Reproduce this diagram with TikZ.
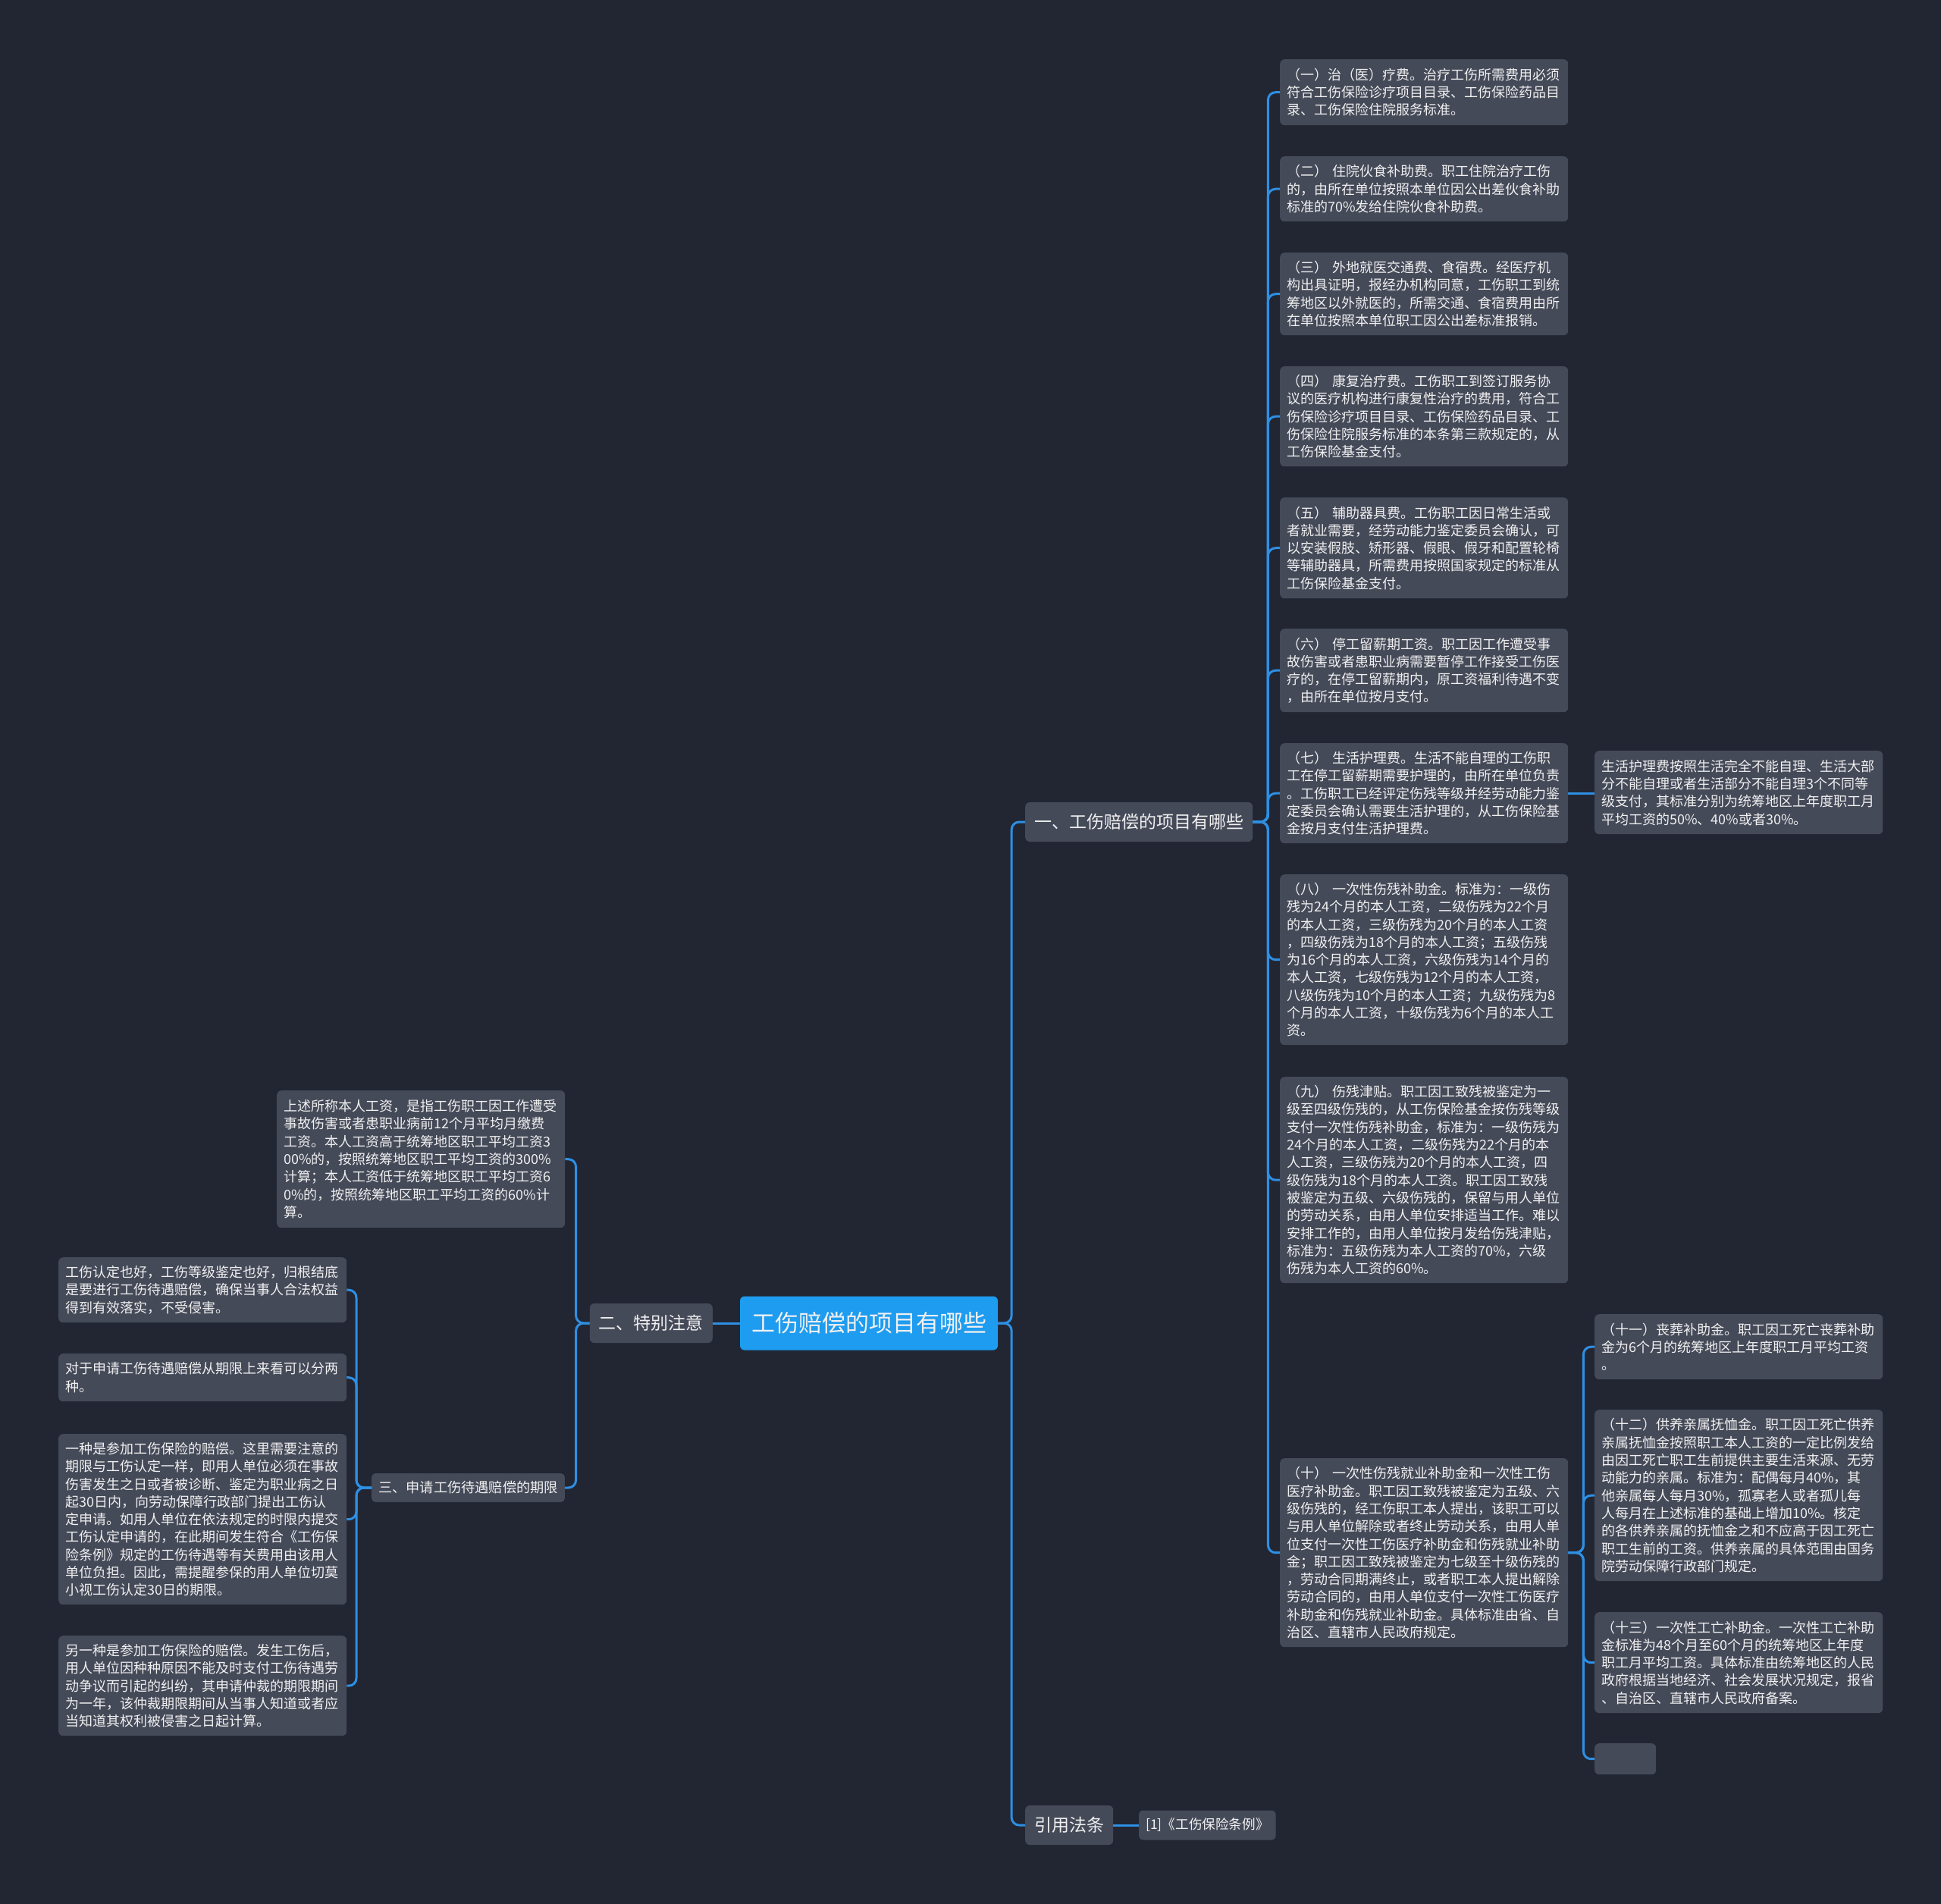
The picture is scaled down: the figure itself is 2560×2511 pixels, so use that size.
\documentclass[tikz,border=0pt]{standalone}
\usepackage{fontspec}
\setmainfont{Noto Sans CJK SC}
\usepackage{xcolor}
\usetikzlibrary{positioning}

\definecolor{bgnavy}{HTML}{222633}
\definecolor{boxgrey}{HTML}{454A59}
\definecolor{linkblue}{HTML}{2E8FE3}
\definecolor{rootblue}{HTML}{1E9CF0}
\definecolor{textwhite}{HTML}{F0F0F0}

\begin{document}
\begin{tikzpicture}[
    x=1pt, y=-1pt,
    every node/.style={inner sep=0pt, text=textwhite},
    rootbox/.style={fill=rootblue, rounded corners=6pt, font=\fontsize{31}{36}\selectfont, minimum width=340pt, minimum height=71pt},
    topic/.style={fill=boxgrey, rounded corners=6pt, font=\fontsize{23}{28}\selectfont, inner xsep=12pt, minimum height=52pt},
    subtopic/.style={fill=boxgrey, rounded corners=5pt, font=\fontsize{18.2}{22}\selectfont, inner xsep=9pt, minimum height=38pt},
    leaf/.style={fill=boxgrey, rounded corners=6pt, font=\fontsize{18}{23.3}\selectfont, align=left, text width=362pt, inner xsep=9pt, anchor=north west},
    link/.style={draw=linkblue, line width=3pt, rounded corners=10pt}
]
\useasboundingbox (0,0) rectangle (2560,2511);
\fill[bgnavy] (0,0) rectangle (2560,2511);

% centre and main branches
\node[rootbox] (root) at (1146,1745) {工伤赔偿的项目有哪些};
\node[topic, anchor=west] (sec1) at (1352,1084) {一、工伤赔偿的项目有哪些};
\node[topic, anchor=east] (sec2) at (940,1745) {二、特别注意};
\node[topic, anchor=west] (law) at (1352,2407) {引用法条};
\node[subtopic, font=\fontsize{17.6}{22}\selectfont, minimum height=39pt, anchor=west] (lawref) at (1502,2407) {[1]《工伤保险条例》};
\node[subtopic, anchor=east] (sec3) at (745,1962) {三、申请工伤待遇赔偿的期限};

% items of section one
\node[leaf, minimum height=87pt] (i1) at (1688,78) {（一）治（医）疗费。治疗工伤所需费用必须\\符合工伤保险诊疗项目目录、工伤保险药品目\\录、工伤保险住院服务标准。};
\node[leaf, minimum height=86pt] (i2) at (1688,206) {（二） 住院伙食补助费。职工住院治疗工伤\\的，由所在单位按照本单位因公出差伙食补助\\标准的70\%发给住院伙食补助费。};
\node[leaf, minimum height=109pt] (i3) at (1688,333) {（三） 外地就医交通费、食宿费。经医疗机\\构出具证明，报经办机构同意，工伤职工到统\\筹地区以外就医的，所需交通、食宿费用由所\\在单位按照本单位职工因公出差标准报销。};
\node[leaf, minimum height=132pt] (i4) at (1688,483) {（四） 康复治疗费。工伤职工到签订服务协\\议的医疗机构进行康复性治疗的费用，符合工\\伤保险诊疗项目目录、工伤保险药品目录、工\\伤保险住院服务标准的本条第三款规定的，从\\工伤保险基金支付。};
\node[leaf, minimum height=133pt] (i5) at (1688,656) {（五） 辅助器具费。工伤职工因日常生活或\\者就业需要，经劳动能力鉴定委员会确认，可\\以安装假肢、矫形器、假眼、假牙和配置轮椅\\等辅助器具，所需费用按照国家规定的标准从\\工伤保险基金支付。};
\node[leaf, minimum height=110pt] (i6) at (1688,829) {（六） 停工留薪期工资。职工因工作遭受事\\故伤害或者患职业病需要暂停工作接受工伤医\\疗的，在停工留薪期内，原工资福利待遇不变\\，由所在单位按月支付。};
\node[leaf, minimum height=132pt] (i7) at (1688,980) {（七） 生活护理费。生活不能自理的工伤职\\工在停工留薪期需要护理的，由所在单位负责\\。工伤职工已经评定伤残等级并经劳动能力鉴\\定委员会确认需要生活护理的，从工伤保险基\\金按月支付生活护理费。};
\node[leaf, minimum height=225pt] (i8) at (1688,1153) {（八） 一次性伤残补助金。标准为：一级伤\\残为24个月的本人工资，二级伤残为22个月\\的本人工资，三级伤残为20个月的本人工资\\，四级伤残为18个月的本人工资；五级伤残\\为16个月的本人工资，六级伤残为14个月的\\本人工资，七级伤残为12个月的本人工资，\\八级伤残为10个月的本人工资；九级伤残为8\\个月的本人工资，十级伤残为6个月的本人工\\资。};
\node[leaf, minimum height=272pt] (i9) at (1688,1420) {（九） 伤残津贴。职工因工致残被鉴定为一\\级至四级伤残的，从工伤保险基金按伤残等级\\支付一次性伤残补助金，标准为：一级伤残为\\24个月的本人工资，二级伤残为22个月的本\\人工资，三级伤残为20个月的本人工资，四\\级伤残为18个月的本人工资。职工因工致残\\被鉴定为五级、六级伤残的，保留与用人单位\\的劳动关系，由用人单位安排适当工作。难以\\安排工作的，由用人单位按月发给伤残津贴，\\标准为：五级伤残为本人工资的70\%，六级\\伤残为本人工资的60\%。};
\node[leaf, minimum height=249pt] (i10) at (1688,1923) {（十） 一次性伤残就业补助金和一次性工伤\\医疗补助金。职工因工致残被鉴定为五级、六\\级伤残的，经工伤职工本人提出，该职工可以\\与用人单位解除或者终止劳动关系，由用人单\\位支付一次性工伤医疗补助金和伤残就业补助\\金；职工因工致残被鉴定为七级至十级伤残的\\，劳动合同期满终止，或者职工本人提出解除\\劳动合同的，由用人单位支付一次性工伤医疗\\补助金和伤残就业补助金。具体标准由省、自\\治区、直辖市人民政府规定。};

% sub items on the far right
\node[leaf, minimum height=110pt] (i7a) at (2103,990) {生活护理费按照生活完全不能自理、生活大部\\分不能自理或者生活部分不能自理3个不同等\\级支付，其标准分别为统筹地区上年度职工月\\平均工资的50\%、40\%或者30\%。};
\node[leaf, minimum height=86pt] (i11) at (2103,1733) {（十一）丧葬补助金。职工因工死亡丧葬补助\\金为6个月的统筹地区上年度职工月平均工资\\。};
\node[leaf, minimum height=226pt] (i12) at (2103,1859) {（十二）供养亲属抚恤金。职工因工死亡供养\\亲属抚恤金按照职工本人工资的一定比例发给\\由因工死亡职工生前提供主要生活来源、无劳\\动能力的亲属。标准为：配偶每月40\%，其\\他亲属每人每月30\%，孤寡老人或者孤儿每\\人每月在上述标准的基础上增加10\%。核定\\的各供养亲属的抚恤金之和不应高于因工死亡\\职工生前的工资。供养亲属的具体范围由国务\\院劳动保障行政部门规定。};
\node[leaf, minimum height=133pt] (i13) at (2103,2126) {（十三）一次性工亡补助金。一次性工亡补助\\金标准为48个月至60个月的统筹地区上年度\\职工月平均工资。具体标准由统筹地区的人民\\政府根据当地经济、社会发展状况规定，报省\\、自治区、直辖市人民政府备案。};
\node[leaf, text width=63pt, minimum height=41pt] (iblank) at (2103,2299) {};

% left side
\node[leaf, minimum height=181pt] (note) at (365,1438) {上述所称本人工资，是指工伤职工因工作遭受\\事故伤害或者患职业病前12个月平均月缴费\\工资。本人工资高于统筹地区职工平均工资3\\00\%的，按照统筹地区职工平均工资的300\%\\计算；本人工资低于统筹地区职工平均工资6\\0\%的，按照统筹地区职工平均工资的60\%计\\算。};
\node[leaf, minimum height=86pt] (p1) at (77,1658) {工伤认定也好，工伤等级鉴定也好，归根结底\\是要进行工伤待遇赔偿，确保当事人合法权益\\得到有效落实，不受侵害。};
\node[leaf, minimum height=63pt] (p2) at (77,1785) {对于申请工伤待遇赔偿从期限上来看可以分两\\种。};
\node[leaf, minimum height=225pt] (p3) at (77,1891) {一种是参加工伤保险的赔偿。这里需要注意的\\期限与工伤认定一样，即用人单位必须在事故\\伤害发生之日或者被诊断、鉴定为职业病之日\\起30日内，向劳动保障行政部门提出工伤认\\定申请。如用人单位在依法规定的时限内提交\\工伤认定申请的，在此期间发生符合《工伤保\\险条例》规定的工伤待遇等有关费用由该用人\\单位负担。因此，需提醒参保的用人单位切莫\\小视工伤认定30日的期限。};
\node[leaf, minimum height=132pt] (p4) at (77,2157) {另一种是参加工伤保险的赔偿。发生工伤后，\\用人单位因种种原因不能及时支付工伤待遇劳\\动争议而引起的纠纷，其申请仲裁的期限期间\\为一年，该仲裁期限期间从当事人知道或者应\\当知道其权利被侵害之日起计算。};

% connectors
\draw[link] (root.west) -- (sec2.east);
\foreach \n in {sec1, law}
    \draw[link] (root.east) -- ++(18,0) |- (\n.west);
\foreach \n in {i1, i2, i3, i4, i5, i6, i7, i8, i9, i10}
    \draw[link] (sec1.east) -- ++(20,0) |- (\n.west);
\draw[link] (i7.east) -- (i7.east -| i7a.west);
\foreach \n in {i11, i12, i13, iblank}
    \draw[link] (i10.east) -- ++(20,0) |- (\n.west);
\draw[link] (law.east) -- (lawref.west);
\foreach \n in {note, sec3}
    \draw[link] (sec2.west) -- ++(-18,0) |- (\n.east);
\foreach \n in {p1, p2, p3, p4}
    \draw[link] (sec3.west) -- ++(-20,0) |- (\n.east);
\end{tikzpicture}
\end{document}
